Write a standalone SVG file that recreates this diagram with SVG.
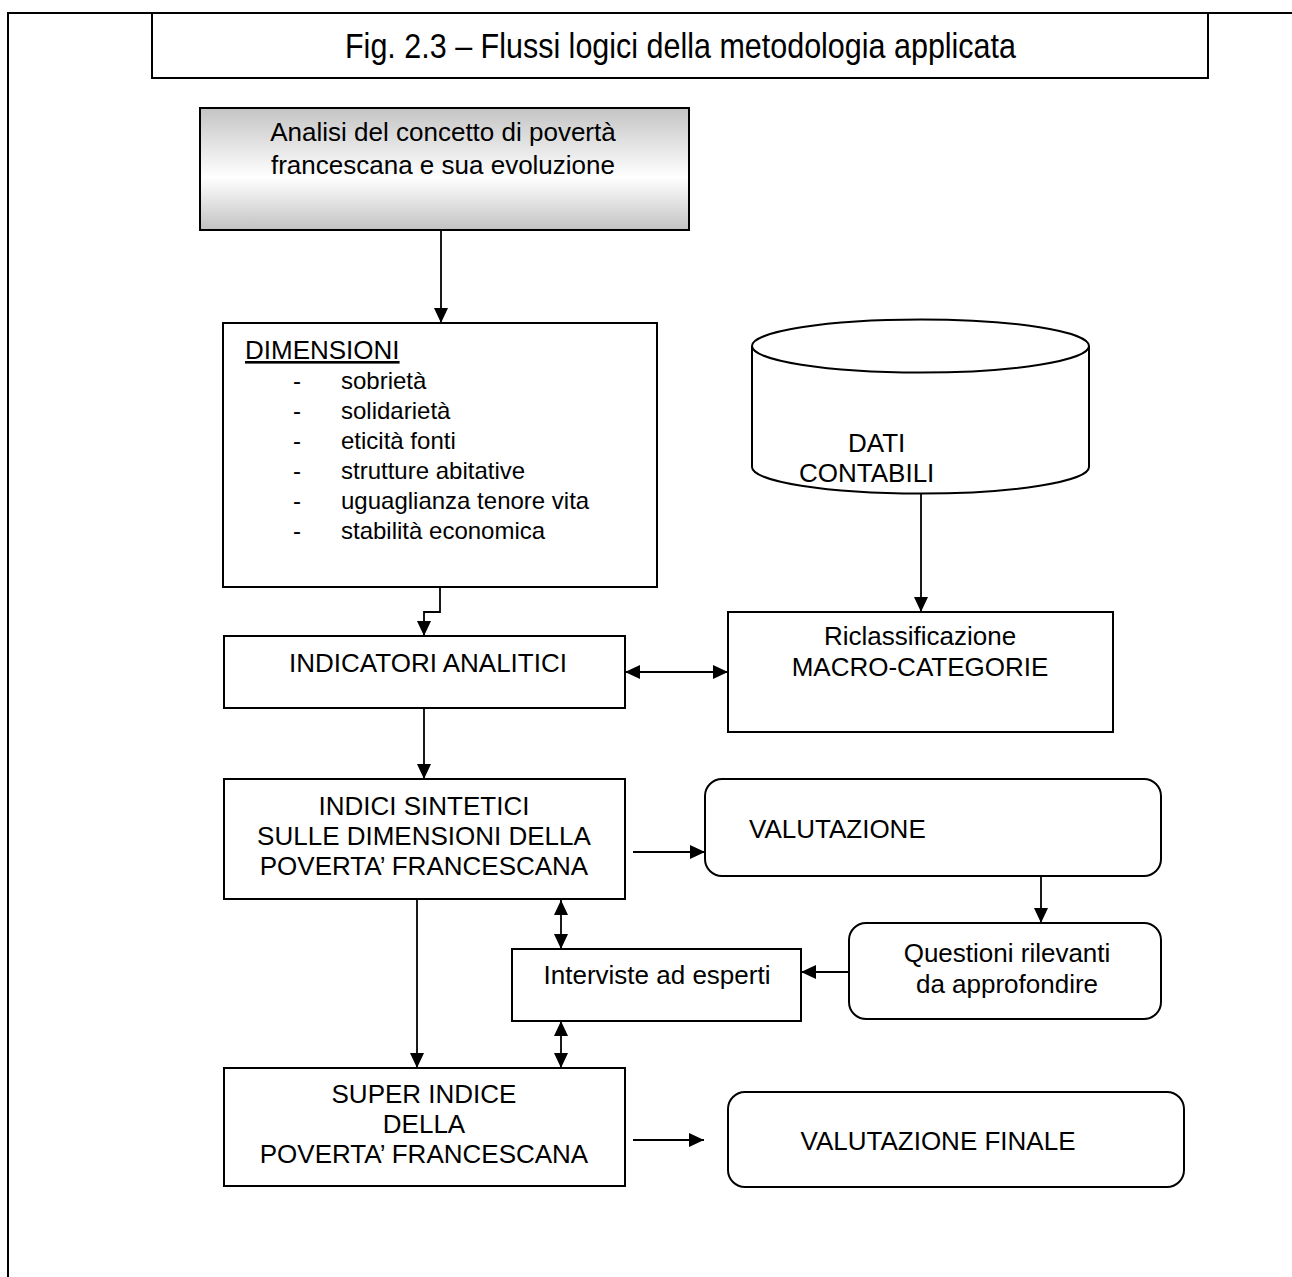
<svg xmlns="http://www.w3.org/2000/svg" width="1292" height="1277" viewBox="0 0 1292 1277">
<defs>
<linearGradient id="g1" x1="0" y1="0" x2="0" y2="1">
<stop offset="0" stop-color="#c4c4c4"/>
<stop offset="0.57" stop-color="#ffffff"/>
<stop offset="1" stop-color="#c2c2c2"/>
</linearGradient>
<marker id="ah" viewBox="0 0 15 14" refX="15" refY="7" markerWidth="15" markerHeight="14" markerUnits="userSpaceOnUse" orient="auto-start-reverse">
<path d="M0,0 L15,7 L0,14 z" fill="#000"/>
</marker>
</defs>
<style>
.bx{fill:#fff;stroke:#000;stroke-width:2}
.fr{fill:none;stroke:#000;stroke-width:2}
.cn{fill:none;stroke:#000;stroke-width:1.8}
.t{font-family:"Liberation Sans",Arial,sans-serif;font-size:26px;fill:#000}
.s{font-family:"Liberation Sans",Arial,sans-serif;font-size:24px;fill:#000}
.m{text-anchor:middle}
</style>
<rect width="1292" height="1277" fill="#fff"/>
<g id="frame">
<path class="fr" d="M8,1277 L8,13 L1292,13"/>
</g>
<g id="title">
<rect class="bx" x="152" y="13" width="1056" height="65"/>
<text x="680.5" y="58" class="m" style="font-family:'Liberation Sans Narrow','Liberation Sans',Arial,sans-serif;font-size:35px" textLength="671" lengthAdjust="spacingAndGlyphs">Fig. 2.3 – Flussi logici della metodologia applicata</text>
</g>
<g id="analisi">
<rect x="200" y="108" width="489" height="122" fill="url(#g1)" stroke="#000" stroke-width="2"/>
<text class="t m" x="443" y="141">Analisi del concetto di povertà</text>
<text class="t m" x="443" y="174">francescana e sua evoluzione</text>
</g>
<g id="dimensioni">
<rect class="bx" x="223" y="323" width="434" height="264"/>
<text class="t" x="245" y="359" text-decoration="underline">DIMENSIONI</text>
<text class="s" x="293" y="389">-</text><text class="s" x="341" y="389">sobrietà</text>
<text class="s" x="293" y="419">-</text><text class="s" x="341" y="419">solidarietà</text>
<text class="s" x="293" y="449">-</text><text class="s" x="341" y="449">eticità fonti</text>
<text class="s" x="293" y="479">-</text><text class="s" x="341" y="479">strutture abitative</text>
<text class="s" x="293" y="509">-</text><text class="s" x="341" y="509">uguaglianza tenore vita</text>
<text class="s" x="293" y="539">-</text><text class="s" x="341" y="539">stabilità economica</text>
</g>
<g id="dati">
<path class="bx" d="M752,346 L752,467 A168.5,26.5 0 0 0 1089,467 L1089,346"/>
<ellipse class="bx" cx="920.5" cy="346" rx="168.5" ry="26.5"/>
<text class="t" x="848" y="452">DATI</text>
<text class="t" x="799" y="482">CONTABILI</text>
</g>
<g id="riclassificazione">
<rect class="bx" x="728" y="612" width="385" height="120"/>
<text class="t m" x="920" y="645">Riclassificazione</text>
<text class="t m" x="920" y="676">MACRO-CATEGORIE</text>
</g>
<g id="indicatori">
<rect class="bx" x="224" y="636" width="401" height="72"/>
<text class="t m" x="428" y="672">INDICATORI ANALITICI</text>
</g>
<g id="indici">
<rect class="bx" x="224" y="779" width="401" height="120"/>
<text class="t m" x="424" y="815">INDICI SINTETICI</text>
<text class="t m" x="424" y="845">SULLE DIMENSIONI DELLA</text>
<text class="t m" x="424" y="875">POVERTA’ FRANCESCANA</text>
</g>
<g id="valutazione">
<rect class="bx" x="705" y="779" width="456" height="97" rx="17" ry="17"/>
<text class="t" x="749" y="838">VALUTAZIONE</text>
</g>
<g id="questioni">
<rect class="bx" x="849" y="923" width="312" height="96" rx="17" ry="17"/>
<text class="t m" x="1007" y="962">Questioni rilevanti</text>
<text class="t m" x="1007" y="993">da approfondire</text>
</g>
<g id="interviste">
<rect class="bx" x="512" y="949" width="289" height="72"/>
<text class="t m" x="657" y="984">Interviste ad esperti</text>
</g>
<g id="superindice">
<rect class="bx" x="224" y="1068" width="401" height="118"/>
<text class="t m" x="424" y="1103">SUPER INDICE</text>
<text class="t m" x="424" y="1133">DELLA</text>
<text class="t m" x="424" y="1163">POVERTA’ FRANCESCANA</text>
</g>
<g id="valutazionefinale">
<rect class="bx" x="728" y="1092" width="456" height="95" rx="17" ry="17"/>
<text class="t m" x="938" y="1150">VALUTAZIONE FINALE</text>
</g>
<g id="connectors">
<path class="cn" d="M441,230 L441,323" marker-end="url(#ah)"/>
<path class="cn" d="M440,587 L440,612 L424,612 L424,636" marker-end="url(#ah)"/>
<path class="cn" d="M921,493 L921,612" marker-end="url(#ah)"/>
<path class="cn" d="M625,672 L728,672" marker-start="url(#ah)" marker-end="url(#ah)"/>
<path class="cn" d="M424,708 L424,779" marker-end="url(#ah)"/>
<path class="cn" d="M633,852 L705,852" marker-end="url(#ah)"/>
<path class="cn" d="M1041,876 L1041,923" marker-end="url(#ah)"/>
<path class="cn" d="M849,972 L801,972" marker-end="url(#ah)"/>
<path class="cn" d="M561,900 L561,949" marker-start="url(#ah)" marker-end="url(#ah)"/>
<path class="cn" d="M561,1021 L561,1068" marker-start="url(#ah)" marker-end="url(#ah)"/>
<path class="cn" d="M417,899 L417,1068" marker-end="url(#ah)"/>
<path class="cn" d="M633,1140 L704,1140" marker-end="url(#ah)"/>
</g>
</svg>
